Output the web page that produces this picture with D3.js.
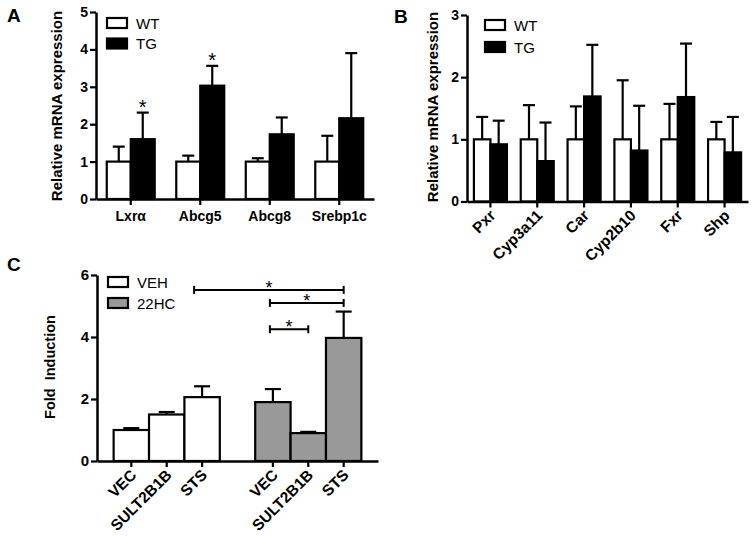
<!DOCTYPE html>
<html>
<head>
<meta charset="utf-8">
<script src="https://cdn.jsdelivr.net/npm/d3@7"></script>
<style>
  body { margin: 0; background: #fff; }
  svg { font-family: "Liberation Sans", Arial, sans-serif; }
</style>
</head>
<body>
<div id="chart"></div>
<script>
// panel A
var genesA = ["Lxrα", "Abcg5", "Abcg8", "Srebp1c"];
var wtA = [1, 1, 1, 1];
var wtErrA = [1.40, 1.16, 1.09, 1.69];
var tgA = [1.60, 3.03, 1.73, 2.16];
var tgErrA = [2.31, 3.56, 2.18, 3.90];
var starsA = ["Lxrα", "Abcg5"];
var ticksA = [0, 1, 2, 3, 4, 5];

// panel B
var genesB = ["Pxr", "Cyp3a11", "Car", "Cyp2b10", "Fxr", "Shp"];
var wtB = [1, 1, 1, 1, 1, 1];
var wtErrB = [1.36, 1.55, 1.53, 1.95, 1.57, 1.28];
var tgB = [0.92, 0.65, 1.69, 0.82, 1.68, 0.79];
var tgErrB = [1.30, 1.27, 2.52, 1.54, 2.54, 1.36];
var ticksB = [0, 1, 2, 3];

// panel C
var groupsC = ["VEH", "22HC"];
var constructsC = ["VEC", "SULT2B1B", "STS"];
var vehC = [1.0, 1.50, 2.06];
var vehErrC = [1.06, 1.58, 2.41];
var hcC = [1.90, 0.90, 3.97];
var hcErrC = [2.32, 0.94, 4.82];
var bracketsC = [
  { from: "VEH|STS", to: "22HC|STS", level: 5.52 },
  { from: "22HC|VEC", to: "22HC|STS", level: 5.10 },
  { from: "22HC|VEC", to: "22HC|SULT2B1B", level: 4.25 }
];
var ticksC = [0, 2, 4, 6];

var W = 755, H = 536;
var lw = 2.2;

var svg = d3.select("#chart").append("svg")
    .attr("width", W)
    .attr("height", H);

function styleAxis(g) {
    g.selectAll("path.domain").attr("stroke", "#000").attr("stroke-width", 2.5);
    g.selectAll(".tick line").attr("stroke", "#000").attr("stroke-width", 2.2);
    g.selectAll(".tick text")
        .attr("fill", "#000")
        .style("font-weight", "bold")
        .style("font-family", "'Liberation Sans', Arial, sans-serif");
}

function yTitle(x, y, text, size) {
    svg.append("text")
        .attr("transform", "translate(" + x + "," + y + ") rotate(-90)")
        .attr("text-anchor", "middle")
        .style("font-weight", "bold")
        .style("font-size", size + "px")
        .style("white-space", "pre")
        .text(text);
}

function panelLabel(x, y, t) {
    svg.append("text").attr("x", x).attr("y", y)
        .style("font-weight", "bold").style("font-size", "19px").text(t);
}

function legend(x, y, gap, items) {
    items.forEach(function(it, i) {
        svg.append("rect")
            .attr("x", x).attr("y", y + i * gap)
            .attr("width", 20).attr("height", 10)
            .attr("fill", it.fill).attr("stroke", "#000").attr("stroke-width", lw);
        svg.append("text")
            .attr("x", x + 29).attr("y", y + i * gap + 10.5)
            .style("font-size", "15px")
            .text(it.label);
    });
}

function errBar(g, cx, yTop, yErr, cap) {
    g.append("line").attr("x1", cx).attr("x2", cx).attr("y1", yTop).attr("y2", yErr)
        .attr("stroke", "#000").attr("stroke-width", lw);
    g.append("line").attr("x1", cx - cap / 2).attr("x2", cx + cap / 2).attr("y1", yErr).attr("y2", yErr)
        .attr("stroke", "#000").attr("stroke-width", lw);
}

// grouped WT / TG panel (A and B)
function groupedPanel(opt) {
    var x = d3.scaleBand().domain(opt.genes).range(opt.xr).paddingInner(opt.pad).paddingOuter(opt.pad / 2);
    var sub = d3.scaleBand().domain(["WT", "TG"]).range([0, x.bandwidth()]);
    var y = d3.scaleLinear().domain([0, opt.ymax]).range(opt.yr);

    var g = svg.append("g");
    var rows = opt.genes.map(function(d, i) {
        return [
            { gene: d, s: "WT", v: opt.wt[i], e: opt.wtErr[i], fill: "#fff" },
            { gene: d, s: "TG", v: opt.tg[i], e: opt.tgErr[i], fill: "#000" }
        ];
    });
    var flat = [].concat.apply([], rows);

    flat.forEach(function(d) {
        var cx = x(d.gene) + sub(d.s) + sub.bandwidth() / 2;
        errBar(g, cx, y(d.v), y(d.e), opt.cap);
    });

    g.selectAll("rect.bar")
        .data(flat)
        .enter()
        .append("rect")
        .attr("class", "bar")
        .attr("x", d => x(d.gene) + sub(d.s))
        .attr("y", d => y(d.v))
        .attr("width", sub.bandwidth())
        .attr("height", d => y(0) - y(d.v))
        .attr("fill", d => d.fill)
        .attr("stroke", "#000")
        .attr("stroke-width", lw);

    if (opt.stars) {
        opt.stars.forEach(function(s) {
            var i = opt.genes.indexOf(s);
            g.append("text")
                .attr("x", x(s) + sub("TG") + sub.bandwidth() / 2)
                .attr("y", y(opt.tgErr[i]) + 1)
                .attr("text-anchor", "middle")
                .style("font-size", "20px")
                .text("*");
        });
    }

    var ya = svg.append("g")
        .attr("transform", "translate(" + opt.xr[0] + ",0)")
        .call(d3.axisLeft(y).tickValues(opt.ticks).tickFormat(d3.format("d")).tickSize(6).tickSizeOuter(0).tickPadding(2));
    ya.selectAll(".tick text").style("font-size", "14px");
    styleAxis(ya);

    var xa = svg.append("g")
        .attr("transform", "translate(0," + opt.yr[0] + ")")
        .call(d3.axisBottom(x).tickSize(6).tickSizeOuter(0));
    xa.selectAll(".tick text").style("font-size", "14px");
    if (opt.rotate) {
        xa.selectAll(".tick text")
            .style("font-size", "15.5px")
            .attr("text-anchor", "end")
            .attr("dy", null)
            .attr("transform", "translate(6,15) rotate(-45)")
            .attr("y", 0).attr("x", 0);
    } else {
        xa.selectAll(".tick text").attr("y", 12);
    }
    styleAxis(xa);
}

groupedPanel({
    genes: genesA, wt: wtA, wtErr: wtErrA, tg: tgA, tgErr: tgErrA, stars: starsA,
    ticks: ticksA, ymax: 5, xr: [96, 374], yr: [199, 12], pad: 0.31, cap: 12
});
groupedPanel({
    genes: genesB, wt: wtB, wtErr: wtErrB, tg: tgB, tgErr: tgErrB,
    ticks: ticksB, ymax: 3, xr: [467, 748], yr: [201.5, 15], pad: 0.295, cap: 12, rotate: true
});

panelLabel(7, 22, "A");
panelLabel(394, 23, "B");
yTitle(62, 106, "Relative mRNA expression", 15);
yTitle(438, 107, "Relative mRNA expression", 15);
legend(107, 18, 20.5, [{ label: "WT", fill: "#fff" }, { label: "TG", fill: "#000" }]);
legend(485, 20, 22, [{ label: "WT", fill: "#fff" }, { label: "TG", fill: "#000" }]);

// panel C
var slotsC = [];
groupsC.forEach(function(gname, gi) {
    constructsC.forEach(function(c) { slotsC.push(gname + "|" + c); });
    if (gi < groupsC.length - 1) slotsC.push("gap");
});
var barsC = [];
constructsC.forEach(function(c, i) {
    barsC.push({ key: "VEH|" + c, v: vehC[i], e: vehErrC[i], fill: "#fff" });
});
constructsC.forEach(function(c, i) {
    barsC.push({ key: "22HC|" + c, v: hcC[i], e: hcErrC[i], fill: "#999" });
});

var xC = d3.scaleBand().domain(slotsC).range([97, 378]).paddingInner(0).paddingOuter(0.47);
var yC = d3.scaleLinear().domain([0, 6]).range([461, 275]);
var gC = svg.append("g");

barsC.forEach(function(d) {
    errBar(gC, xC(d.key) + xC.bandwidth() / 2, yC(d.v), yC(d.e), 16);
});

gC.selectAll("rect.bar")
    .data(barsC)
    .enter()
    .append("rect")
    .attr("class", "bar")
    .attr("x", d => xC(d.key))
    .attr("y", d => yC(d.v))
    .attr("width", xC.bandwidth())
    .attr("height", d => yC(0) - yC(d.v))
    .attr("fill", d => d.fill)
    .attr("stroke", "#000")
    .attr("stroke-width", lw);

bracketsC.forEach(function(b, i) {
    var x1 = xC(b.from) + xC.bandwidth() / 2 - (i === 0 ? 8 : 3);
    var x2 = xC(b.to) + xC.bandwidth() / 2;
    var yy = yC(b.level);
    gC.append("line").attr("x1", x1).attr("x2", x2).attr("y1", yy).attr("y2", yy)
        .attr("stroke", "#000").attr("stroke-width", 2);
    [x1, x2].forEach(function(xx) {
        gC.append("line").attr("x1", xx).attr("x2", xx).attr("y1", yy - 4).attr("y2", yy + 4)
            .attr("stroke", "#000").attr("stroke-width", 2);
    });
    gC.append("text")
        .attr("x", (x1 + x2) / 2).attr("y", yy + 4)
        .attr("text-anchor", "middle")
        .style("font-size", "18px")
        .text("*");
});

var yaC = svg.append("g")
    .attr("transform", "translate(97,0)")
    .call(d3.axisLeft(yC).tickValues(ticksC).tickFormat(d3.format("d")).tickSize(6).tickSizeOuter(0).tickPadding(2));
yaC.selectAll(".tick text").style("font-size", "15px");
styleAxis(yaC);

var xaC = svg.append("g")
    .attr("transform", "translate(0,461)")
    .call(d3.axisBottom(xC).tickValues(slotsC.filter(d => d !== "gap"))
        .tickFormat(d => d.split("|")[1]).tickSize(6).tickSizeOuter(0));
xaC.selectAll(".tick text")
    .style("font-size", "15.5px")
    .attr("text-anchor", "end")
    .attr("dy", null)
    .attr("x", 0).attr("y", 0)
    .attr("transform", "translate(6,15) rotate(-45)");
styleAxis(xaC);

panelLabel(7, 271, "C");
yTitle(55, 367, "Fold  Induction", 14.5);
legend(108, 277, 21, [{ label: "VEH", fill: "#fff" }, { label: "22HC", fill: "#999" }]);
</script>
</body>
</html>
